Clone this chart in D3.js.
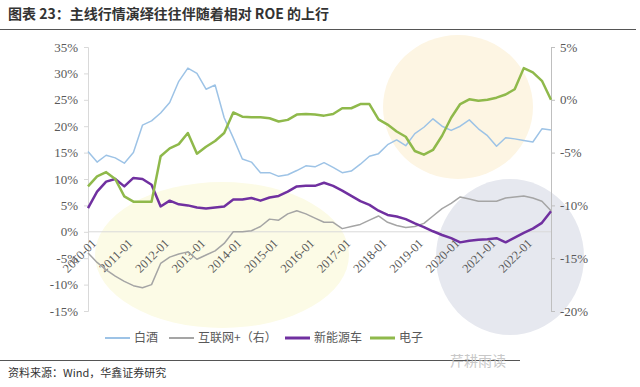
<!DOCTYPE html>
<html>
<head>
<meta charset="utf-8">
<script src="https://cdn.jsdelivr.net/npm/d3@7"></script>
<style>
  body { margin: 0; background: #fff; }
  svg { display: block; }
</style>
</head>
<body>
<div id="chart"></div>
<script>
// quarterly points, 2010-01 .. 2022-10
const years = d3.range(2010, 2023)
const quarters = years.flatMap(y => ["01", "04", "07", "10"].map(m => y + "-" + m))
const xTickLabels = years.map(y => y + "-01")

const leftTicks = [35, 30, 25, 20, 15, 10, 5, 0, -5, -10, -15]
const rightTicks = [5, 0, -5, -10, -15, -20]

// 白酒 (left axis, %)
const baijiu = [15.2, 13.2, 14.5, 14.0, 13.0, 15.0, 20.2, 21.0, 22.5, 24.5, 28.5, 31.0, 30.0, 27.0, 27.8, 21.6,
  17.8, 13.8, 13.2, 11.2, 11.2, 10.5, 10.8, 11.6, 12.5, 12.3, 13.1, 12.2, 11.2, 11.5, 12.8, 14.3,
  14.8, 16.5, 17.4, 16.3, 18.6, 19.8, 21.4, 20.0, 19.2, 20.0, 21.2, 19.5, 18.2, 16.2, 17.8, 17.6,
  17.3, 17.0, 19.5, 19.3]
// 互联网+ (right axis, %)
const internet = [-14.5, -15.4, -16.1, -16.7, -17.2, -17.6, -17.8, -17.5, -15.5, -14.9, -14.6, -14.4, -15.1, -14.7, -14.3, -13.6,
  -12.5, -12.5, -12.4, -12.0, -11.3, -11.4, -10.8, -10.5, -10.8, -11.2, -11.6, -11.6, -12.2, -12.0, -11.8, -11.4,
  -11.0, -11.6, -11.9, -12.1, -12.0, -11.7, -11.0, -10.3, -9.8, -9.2, -9.4, -9.6, -9.6, -9.6, -9.3, -9.2,
  -9.1, -9.3, -9.6, -10.5]
// 新能源车 (left axis, %)
const nev = [4.5, 7.6, 9.5, 10.0, 8.6, 10.2, 10.0, 8.9, 4.8, 5.9, 5.2, 5.0, 4.6, 4.4, 4.6, 4.8,
  6.1, 6.1, 6.4, 5.9, 6.5, 6.8, 7.6, 8.6, 8.7, 8.7, 9.3, 8.7, 7.8, 6.8, 5.8, 5.1,
  4.0, 3.2, 2.9, 2.4, 1.6, 0.9, 0.1, -0.6, -1.2, -2.0, -1.7, -1.5, -1.4, -1.2, -2.0, -1.1,
  -0.2, 0.6, 1.7, 3.9]
// 电子 (left axis, %)
const electronics = [8.6, 10.5, 11.3, 10.0, 6.7, 5.7, 5.7, 5.7, 14.3, 15.8, 16.6, 18.7, 14.8, 16.1, 17.2, 18.7,
  22.6, 21.8, 21.7, 21.7, 21.5, 20.9, 21.2, 22.2, 22.3, 22.2, 22.0, 22.3, 23.4, 23.4, 24.2, 24.2,
  21.3, 20.3, 19.0, 18.0, 15.3, 14.6, 15.5, 18.2, 21.6, 24.2, 25.1, 24.8, 25.0, 25.4, 26.0, 27.0,
  31.0, 30.2, 28.6, 25.0]

const series = [
  { name: "白酒", values: baijiu, axis: "left", color: "#9dc3e6", width: 1.5 },
  { name: "互联网+（右）", values: internet, axis: "right", color: "#a5a5a5", width: 1.5 },
  { name: "新能源车", values: nev, axis: "left", color: "#7030a0", width: 2.5 },
  { name: "电子", values: electronics, axis: "left", color: "#8fb94b", width: 2.5 }
]

const width = 640, height = 387
const plot = { left: 88, right: 551, top: 47, bottom: 311 }

const svg = d3.select("#chart").append("svg")
  .attr("width", width)
  .attr("height", height)

const x = d3.scaleLinear().domain([0, quarters.length - 1]).range([plot.left, plot.right])
const yL = d3.scaleLinear().domain([-15, 35]).range([plot.bottom, plot.top])
const yR = d3.scaleLinear().domain([-20, 5]).range([plot.bottom, plot.top])

// title
svg.append("text")
  .attr("x", 8).attr("y", 19)
  .attr("font-family", "'Noto Sans CJK SC', sans-serif")
  .attr("font-weight", "bold")
  .attr("font-size", 14)
  .attr("fill", "#333")
  .text("图表 23：主线行情演绎往往伴随着相对 ROE 的上行")
svg.append("line")
  .attr("x1", 0).attr("x2", 636).attr("y1", 29.5).attr("y2", 29.5)
  .attr("stroke", "#555").attr("stroke-width", 1.2)

// highlight blobs
const blobs = svg.append("g")
blobs.append("ellipse").attr("cx", 222).attr("cy", 255).attr("rx", 127).attr("ry", 73).attr("fill", "#fcfbe6")
blobs.append("ellipse").attr("cx", 458).attr("cy", 107).attr("rx", 75).attr("ry", 72).attr("fill", "#fdf5e3")
blobs.append("ellipse").attr("cx", 510).attr("cy", 257).attr("rx", 74).attr("ry", 78).attr("fill", "#e6e8ef")

// axes
const axisFont = "'Liberation Serif', 'Times New Roman', serif"
const gL = svg.append("g").attr("transform", `translate(${plot.left},0)`)
  .call(d3.axisLeft(yL).tickValues(leftTicks).tickSize(4).tickFormat(d => d + "%"))
gL.select(".domain").attr("stroke", "#d9d9d9")
gL.selectAll(".tick line").attr("stroke", "#d9d9d9")
gL.selectAll(".tick text").attr("font-family", axisFont).attr("font-size", 13).attr("fill", "#595959").attr("dx", -3)

const gR = svg.append("g").attr("transform", `translate(${plot.right},0)`)
  .call(d3.axisRight(yR).tickValues(rightTicks).tickSize(4).tickFormat(d => d + "%"))
gR.select(".domain").attr("stroke", "#bfbfbf")
gR.selectAll(".tick line").attr("stroke", "#bfbfbf")
gR.selectAll(".tick text").attr("font-family", axisFont).attr("font-size", 13).attr("fill", "#595959").attr("dx", 2)

// zero line / category axis
svg.append("line")
  .attr("x1", plot.left).attr("x2", plot.right)
  .attr("y1", yL(0)).attr("y2", yL(0))
  .attr("stroke", "#d9d9d9")

svg.append("g").selectAll("text")
  .data(xTickLabels)
  .join("text")
  .attr("transform", d => `translate(${x(quarters.indexOf(d)) + 3},${yL(0) + 6}) rotate(-45)`)
  .attr("text-anchor", "end")
  .attr("dy", "0.7em")
  .attr("font-family", axisFont)
  .attr("font-size", 12.5)
  .attr("fill", "#595959")
  .text(d => d)

// lines
series.forEach(s => {
  const yScale = s.axis === "left" ? yL : yR
  const line = d3.line().x((d, i) => x(i)).y(d => yScale(d))
  svg.append("path")
    .datum(s.values)
    .attr("fill", "none")
    .attr("stroke", s.color)
    .attr("stroke-width", s.width)
    .attr("stroke-linejoin", "round")
    .attr("d", line)
})

// legend
const legendX = [105, 169, 285, 370]
const legend = svg.append("g")
series.forEach((s, i) => {
  const g = legend.append("g").attr("transform", `translate(${legendX[i]},338)`)
  g.append("line").attr("x1", 0).attr("x2", 25).attr("y1", 0).attr("y2", 0)
    .attr("stroke", s.color).attr("stroke-width", s.width + 0.5)
  g.append("text").attr("x", 29).attr("y", 0).attr("dy", "0.35em")
    .attr("font-family", "'Noto Sans CJK SC', sans-serif")
    .attr("font-size", 12).attr("fill", "#595959")
    .text(s.name)
})

// footer
svg.append("line")
  .attr("x1", 0).attr("x2", 520).attr("y1", 360.5).attr("y2", 360.5)
  .attr("stroke", "#555").attr("stroke-width", 1.2)
svg.append("text")
  .attr("x", 8).attr("y", 377)
  .attr("font-family", "'Noto Sans CJK SC', sans-serif")
  .attr("font-size", 11).attr("fill", "#333")
  .text("资料来源：Wind，华鑫证券研究")
svg.append("text")
  .attr("x", 450).attr("y", 366)
  .attr("font-family", "'Noto Sans CJK SC', sans-serif")
  .attr("font-size", 14).attr("fill", "#c8c8c8")
  .text("芹耕雨读")
</script>
</body>
</html>
